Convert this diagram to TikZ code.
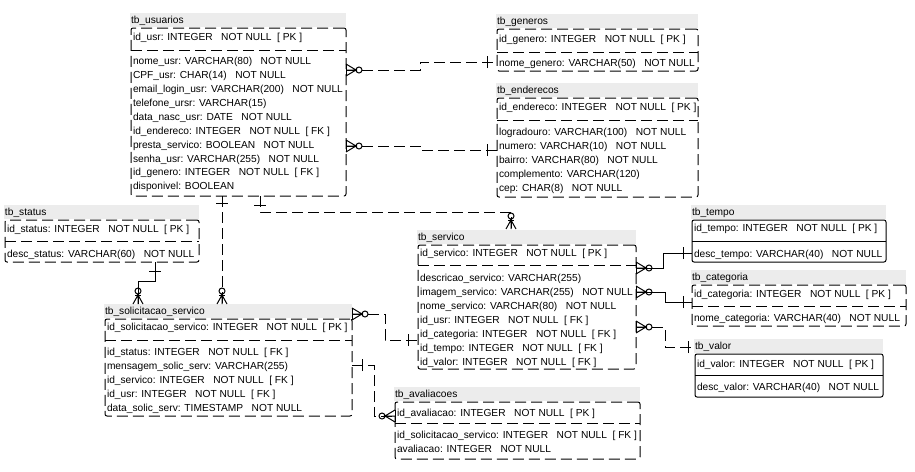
\documentclass[tikz,border=0pt]{standalone}
\usepackage{fontspec}
\setmainfont{Liberation Sans}
\definecolor{hdrgray}{RGB}{236,236,236}
% spacing used inside the column definitions
\newcommand\xnn{\hspace{8.5pt}NOT NULL}
\newcommand\xpk{\hspace{5.5pt}[ PK ]}
\newcommand\xfk{\hspace{5.5pt}[ FK ]}
\tikzset{
  every node/.style={inner sep=0pt, outer sep=0pt},
  txt/.style={font=\fontsize{10.2}{12}\selectfont},
  row/.style={txt, anchor=base west},
  ttl/.style={txt, anchor=base west},
  hdr/.style={fill=hdrgray},
  boxdash/.style={line width=1pt, dash pattern=on 11pt off 5pt},
  boxsolid/.style={line width=1pt},
  rel/.style={line width=1pt, dash pattern=on 11pt off 5pt},
  relsolid/.style={line width=1pt},
  sym/.style={line width=1pt, solid},
}
% table: name, title, left, top, right, bottom, separator y, border style
\newcommand\ertable[8]{%
  \fill[hdr] ({#3-1},{#4-15}) rectangle (#5,{#4-1});
  \node[ttl] (#1-title) at (#3,{#4-4.5}) {#2};
  \node[draw, #8, rounded corners=2pt, anchor=north west,
        minimum width={#5pt-#3pt}, minimum height={#6pt-#4pt}] (#1) at (#3,#4) {};
  \draw[#8] (#3,#7) -- (#5,#7);
}
% crow's foot (zero or many), box edge on the left, line leaves to the right
\newcommand\crowR[1]{%
  \draw[sym] ([yshift=6pt]#1) -- ([yshift=-6pt]#1);
  \draw[sym] ([yshift=6pt]#1) -- ([xshift=10pt]#1) -- ([yshift=-6pt]#1)
             (#1) -- ([xshift=10pt]#1);
  \draw[sym] ([xshift=13pt]#1) circle[radius=3pt];
  \fill ([xshift=10pt]#1) circle[radius=1.3pt];
}
% crow's foot, box edge on the right, line arrives from the left
\newcommand\crowL[1]{%
  \draw[sym] ([yshift=6pt]#1) -- ([yshift=-6pt]#1);
  \draw[sym] ([yshift=6pt]#1) -- ([xshift=-10pt]#1) -- ([yshift=-6pt]#1)
             (#1) -- ([xshift=-10pt]#1);
  \draw[sym] ([xshift=-13pt]#1) circle[radius=3pt];
  \fill ([xshift=-10pt]#1) circle[radius=1.3pt];
}
% crow's foot on top of a table header, line arrives from above
\newcommand\crowD[1]{%
  \draw[sym] ([xshift=-5pt]#1) -- ([yshift=9pt]#1) -- ([xshift=5pt]#1)
             (#1) -- ([yshift=9pt]#1);
  \draw[sym] ([xshift=-3pt,yshift=9pt]#1) -- ([xshift=3pt,yshift=9pt]#1);
  \draw[sym] ([yshift=13pt]#1) circle[radius=3pt];
  \fill ([yshift=9pt]#1) circle[radius=1.3pt];
}
\begin{document}
\begin{tikzpicture}[x=1pt,y=-1pt]
\fill[white] (0,0) rectangle (915,471);
\useasboundingbox (0,0) rectangle (915,471);

% ---------- tables ----------
\ertable{usr}{tb\_usuarios}{131}{28}{346}{196}{50}{boxdash}
\node[row] (usr-pk) at (133,40.7) {id\_usr: INTEGER\xnn\xpk};
\node[row] (usr-1) at (133,64.7) {nome\_usr: VARCHAR(80)\xnn};
\node[row] (usr-2) at (133,78.6) {CPF\_usr: CHAR(14)\xnn};
\node[row] (usr-3) at (133,92.5) {email\_login\_usr: VARCHAR(200)\xnn};
\node[row] (usr-4) at (133,106.4) {telefone\_ursr: VARCHAR(15)};
\node[row] (usr-5) at (133,120.3) {data\_nasc\_usr: DATE\xnn};
\node[row] (usr-6) at (133,134.2) {id\_endereco: INTEGER\xnn\xfk};
\node[row] (usr-7) at (133,148.1) {presta\_servico: BOOLEAN\xnn};
\node[row] (usr-8) at (133,162) {senha\_usr: VARCHAR(255)\xnn};
\node[row] (usr-9) at (133,175.9) {id\_genero: INTEGER\xnn\xfk};
\node[row] (usr-10) at (133,189.8) {disponivel: BOOLEAN};

\ertable{gen}{tb\_generos}{497}{29}{698}{71}{52}{boxdash}
\node[row] (gen-pk) at (499,42.7) {id\_genero: INTEGER\xnn\xpk};
\node[row] (gen-1) at (499,66.7) {nome\_genero: VARCHAR(50)\xnn};

\ertable{end}{tb\_enderecos}{497}{98}{698}{197}{120}{boxdash}
\node[row] (end-pk) at (499,110.7) {id\_endereco: INTEGER\xnn\xpk};
\node[row] (end-1) at (499,135.7) {logradouro: VARCHAR(100)\xnn};
\node[row] (end-2) at (499,149.7) {numero: VARCHAR(10)\xnn};
\node[row] (end-3) at (499,163.7) {bairro: VARCHAR(80)\xnn};
\node[row] (end-4) at (499,177.7) {complemento: VARCHAR(120)};
\node[row] (end-5) at (499,191.7) {cep: CHAR(8)\xnn};

\ertable{sta}{tb\_status}{5}{220}{199}{262}{241}{boxdash}
\node[row] (sta-pk) at (7,232.7) {id\_status: INTEGER\xnn\xpk};
\node[row] (sta-1) at (7,257.7) {desc\_status: VARCHAR(60)\xnn};

\ertable{sol}{tb\_solicitacao\_servico}{105}{319}{352}{416}{340}{boxdash}
\node[row] (sol-pk) at (107,330.7) {id\_solicitacao\_servico: INTEGER\xnn\xpk};
\node[row] (sol-1) at (107,355.7) {id\_status: INTEGER\xnn\xfk};
\node[row] (sol-2) at (107,369.7) {mensagem\_solic\_serv: VARCHAR(255)};
\node[row] (sol-3) at (107,383.7) {id\_servico: INTEGER\xnn\xfk};
\node[row] (sol-4) at (107,397.7) {id\_usr: INTEGER\xnn\xfk};
\node[row] (sol-5) at (107,411.7) {data\_solic\_serv: TIMESTAMP\xnn};

\ertable{ser}{tb\_servico}{418}{245}{636}{369}{265}{boxdash}
\node[row] (ser-pk) at (420,256.7) {id\_servico: INTEGER\xnn\xpk};
\node[row] (ser-1) at (420,281.7) {descricao\_servico: VARCHAR(255)};
\node[row] (ser-2) at (420,295.7) {imagem\_servico: VARCHAR(255)\xnn};
\node[row] (ser-3) at (420,309.7) {nome\_servico: VARCHAR(80)\xnn};
\node[row] (ser-4) at (420,323.7) {id\_usr: INTEGER\xnn\xfk};
\node[row] (ser-5) at (420,337.7) {id\_categoria: INTEGER\xnn\xfk};
\node[row] (ser-6) at (420,351.7) {id\_tempo: INTEGER\xnn\xfk};
\node[row] (ser-7) at (420,365.7) {id\_valor: INTEGER\xnn\xfk};

\ertable{tem}{tb\_tempo}{692}{220}{886}{262}{241}{boxsolid}
\node[row] (tem-pk) at (694,231.7) {id\_tempo: INTEGER\xnn\xpk};
\node[row] (tem-1) at (694,257.7) {desc\_tempo: VARCHAR(40)\xnn};

\ertable{cat}{tb\_categoria}{692}{285}{906}{326}{306}{boxdash}
\node[row] (cat-pk) at (694,297.7) {id\_categoria: INTEGER\xnn\xpk};
\node[row] (cat-1) at (694,321.7) {nome\_categoria: VARCHAR(40)\xnn};

\ertable{val}{tb\_valor}{695}{354}{883}{397}{375}{boxsolid}
\node[row] (val-pk) at (697,367.7) {id\_valor: INTEGER\xnn\xpk};
\node[row] (val-1) at (697,390.7) {desc\_valor: VARCHAR(40)\xnn};

\ertable{ava}{tb\_avaliacoes}{395}{402}{640}{459}{423}{boxdash}
\node[row] (ava-pk) at (397,416.7) {id\_avaliacao: INTEGER\xnn\xpk};
\node[row] (ava-1) at (397,438.7) {id\_solicitacao\_servico: INTEGER\xnn\xfk};
\node[row] (ava-2) at (397,452.7) {avaliacao: INTEGER\xnn};

% ---------- connection points ----------
\coordinate (usr-gen) at (usr.east |- 0,70);
\coordinate (gen-usr) at (gen.west |- 0,62);
\coordinate (usr-end) at (usr.east |- 0,146);
\coordinate (end-usr) at (end.west |- 0,150);
\coordinate (usr-ser) at (260,0 |- usr.south);
\coordinate (ser-usr) at (511,229);
\coordinate (usr-sol) at (222,0 |- usr.south);
\coordinate (sol-usr) at (222,304);
\coordinate (sta-sol) at (155,0 |- sta.south);
\coordinate (sol-sta) at (138,304);
\coordinate (sol-ser) at (sol.east |- 0,314);
\coordinate (ser-sol) at (ser.west |- 0,340);
\coordinate (sol-ava) at (sol.east |- 0,365);
\coordinate (ava-sol) at (ava.west |- 0,416);
\coordinate (ser-tem) at (ser.east |- 0,268);
\coordinate (tem-ser) at (tem.west |- 0,253);
\coordinate (ser-cat) at (ser.east |- 0,292);
\coordinate (cat-ser) at (cat.west |- 0,302);
\coordinate (ser-val) at (ser.east |- 0,327);
\coordinate (val-ser) at (val.west |- 0,347);

% ---------- relationships ----------
% tb_generos 1 -- n tb_usuarios
\draw[rel] (usr-gen) -- ++(74,0) |- (gen-usr);
\crowR{usr-gen}
\draw[sym] ([xshift=-10pt,yshift=-6pt]gen-usr) -- ([xshift=-10pt,yshift=6pt]gen-usr);
% tb_enderecos 1 -- n tb_usuarios
\draw[rel] (usr-end) -- ++(75,0) |- (end-usr);
\crowR{usr-end}
\draw[sym] ([xshift=-10pt,yshift=-6pt]end-usr) -- ([xshift=-10pt,yshift=6pt]end-usr);
% tb_usuarios 1 -- n tb_servico
\draw[rel] (usr-ser) -- ++(0,16) -| (ser-usr);
\draw[sym] ([xshift=-6pt,yshift=-9pt]usr-ser) -- ([xshift=6pt,yshift=-9pt]usr-ser);
\crowD{ser-usr}
% tb_usuarios 1 -- n tb_solicitacao_servico
\draw[rel] (usr-sol) -- (sol-usr);
\draw[sym] ([xshift=-6pt,yshift=-7pt]usr-sol) -- ([xshift=6pt,yshift=-7pt]usr-sol);
\crowD{sol-usr}
% tb_status 1 -- n tb_solicitacao_servico
\draw[relsolid] (sta-sol) -- ++(0,19) -| (sol-sta);
\draw[sym] ([xshift=-6pt,yshift=-9pt]sta-sol) -- ([xshift=6pt,yshift=-9pt]sta-sol);
\crowD{sol-sta}
% tb_servico 1 -- n tb_solicitacao_servico
\draw[rel] (sol-ser) -- ++(33,0) |- (ser-sol);
\crowR{sol-ser}
\draw[sym] ([xshift=-10pt,yshift=-6pt]ser-sol) -- ([xshift=-10pt,yshift=6pt]ser-sol);
% tb_solicitacao_servico 1 -- n tb_avaliacoes
\draw[rel] (sol-ava) -- ++(22,0) |- (ava-sol);
\draw[sym] ([xshift=10pt,yshift=-6pt]sol-ava) -- ([xshift=10pt,yshift=6pt]sol-ava);
\crowL{ava-sol}
% tb_tempo 1 -- n tb_servico
\draw[relsolid] (ser-tem) -- ++(27,0) |- (tem-ser);
\crowR{ser-tem}
\draw[sym] ([xshift=-9pt,yshift=-6pt]tem-ser) -- ([xshift=-9pt,yshift=6pt]tem-ser);
% tb_categoria 1 -- n tb_servico
\draw[relsolid] (ser-cat) -- ++(29,0) |- (cat-ser);
\crowR{ser-cat}
\draw[sym] ([xshift=-9pt,yshift=-6pt]cat-ser) -- ([xshift=-9pt,yshift=6pt]cat-ser);
% tb_valor 1 -- n tb_servico
\draw[rel] (ser-val) -- ++(29,0) |- (val-ser);
\crowR{ser-val}
\draw[sym] ([xshift=-7pt,yshift=-6pt]val-ser) -- ([xshift=-7pt,yshift=6pt]val-ser);
\end{tikzpicture}
\end{document}
